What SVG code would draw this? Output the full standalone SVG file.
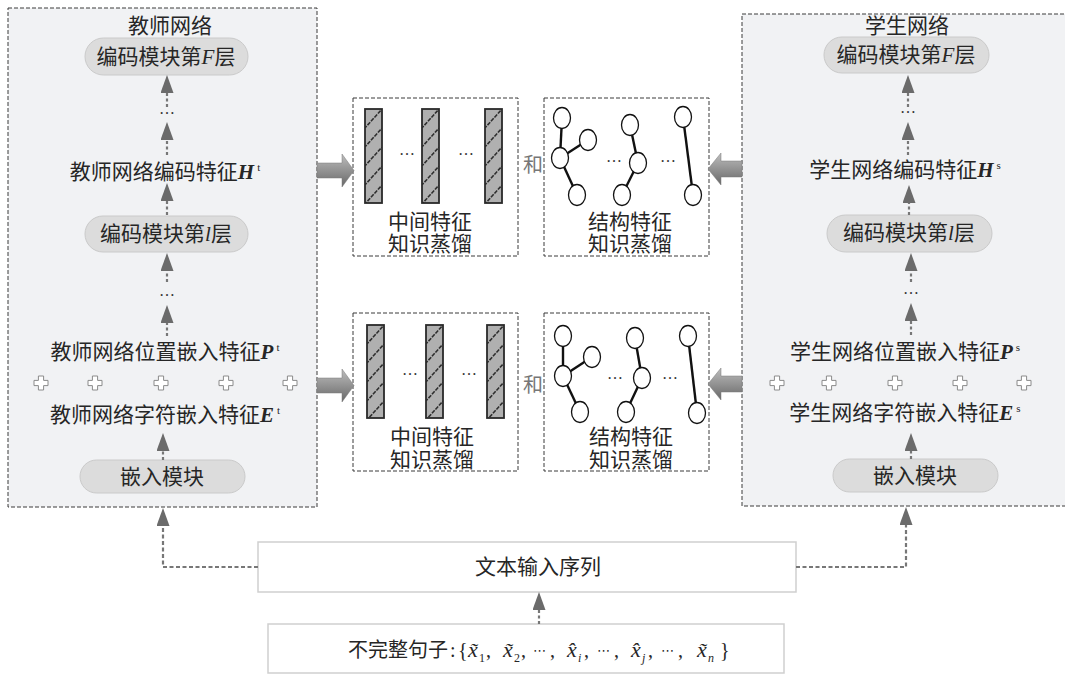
<svg xmlns="http://www.w3.org/2000/svg" width="1065" height="675" viewBox="0 0 1065 675">
<style>
.panel{fill:#f1f2f4;stroke:#3a3a3a;stroke-width:1;stroke-dasharray:4,2}
.mbox{fill:#fff;stroke:#3a3a3a;stroke-width:1;stroke-dasharray:4,2}
.pill{fill:#dcdcdc;stroke:#cacaca;stroke-width:1}
.ibox{fill:#fff;stroke:#cfcfcf;stroke-width:1.5}
.t{font-family:"Liberation Serif","Noto Sans CJK SC",serif;font-size:21px;fill:#262626;text-anchor:middle}
.tl{font-family:"Liberation Serif","Noto Sans CJK SC",serif;font-size:20px;fill:#262626}
.he{font-family:"Liberation Serif",serif;font-style:italic;font-weight:bold}
.it{font-family:"Liberation Serif",serif;font-style:italic}
.sup{font-family:"Liberation Serif",serif;font-size:11px}
.dots{font-family:"Liberation Serif",serif;font-size:16px;fill:#333;text-anchor:middle}
.cd{font-family:"DejaVu Sans",sans-serif;font-size:13px}
.and{font-family:"Noto Sans CJK SC",sans-serif;font-size:20px;fill:#777;text-anchor:middle}
.shaft{stroke:#777;stroke-width:2.2;stroke-dasharray:3,2.5;fill:none}
.conn{stroke:#777;stroke-width:2.2;stroke-dasharray:4,2.5;fill:none}
.plus{fill:#fff;stroke:#8a8a8a;stroke-width:1}
.bar{stroke:#2a2a2a;stroke-width:1.8}
.node{fill:#fff;stroke:#111;stroke-width:1.3}
.edge{stroke:#111;stroke-width:2.4}
.block{fill:url(#bg);stroke:#7a7a7a;stroke-width:0.5}
</style>
<defs>
<marker id="ah" viewBox="0 0 18 13" refX="0" refY="6.5" markerWidth="18" markerHeight="13" markerUnits="userSpaceOnUse" orient="auto">
<path d="M0,0 L18,6.5 L0,13 Z" fill="#6b6b6b"/>
</marker>
<pattern id="hatch" patternUnits="userSpaceOnUse" width="17" height="19">
<rect width="17" height="19" fill="#b0b0b0"/>
<line x1="-1" y1="20" x2="18" y2="-1" stroke="#2e2e2e" stroke-width="1.6" stroke-dasharray="4,1.2"/>
</pattern>
<linearGradient id="bg" x1="0" y1="0" x2="0" y2="1">
<stop offset="0" stop-color="#bdbdbd"/>
<stop offset="1" stop-color="#686868"/>
</linearGradient>
<path id="plusShape" d="M-2.6,-7 H2.6 V-2.6 H7 V2.6 H2.6 V7 H-2.6 V2.6 H-7 V-2.6 H-2.6 Z"/>
</defs>

<!-- Teacher panel -->
<g id="teacher">
<rect class="panel" x="8" y="8" width="309" height="499"/>
<text class="t" x="170" y="33">教师网络</text>
<g id="t-encF">
<rect class="pill" x="85" y="38" width="163" height="37" rx="18.5"/>
<text class="t" x="166" y="64">编码模块第<tspan class="it">F</tspan>层</text>
</g>
<text class="dots" x="167" y="114">…</text>
<g id="t-H">
<text class="t" x="165" y="179">教师网络编码特征<tspan class="he">H</tspan><tspan class="sup" dx="3" dy="-8">t</tspan></text>
</g>
<g id="t-encl">
<rect class="pill" x="85" y="216" width="163" height="36" rx="18"/>
<text class="t" x="166" y="241">编码模块第<tspan class="it">l</tspan>层</text>
</g>
<text class="dots" x="167" y="296">…</text>
<g id="t-P">
<text class="t" x="165" y="359">教师网络位置嵌入特征<tspan class="he">P</tspan><tspan class="sup" dx="3" dy="-8">t</tspan></text>
</g>
<g id="t-plus">
<use href="#plusShape" class="plus" x="41" y="383"/>
<use href="#plusShape" class="plus" x="95" y="383"/>
<use href="#plusShape" class="plus" x="161" y="383"/>
<use href="#plusShape" class="plus" x="226" y="383"/>
<use href="#plusShape" class="plus" x="290" y="383"/>
</g>
<g id="t-E">
<text class="t" x="165" y="422">教师网络字符嵌入特征<tspan class="he">E</tspan><tspan class="sup" dx="3" dy="-8">t</tspan></text>
</g>
<g id="t-emb">
<rect class="pill" x="80" y="460" width="165" height="33" rx="16.5"/>
<text class="t" x="162" y="484">嵌入模块</text>
</g>
</g>

<!-- Student panel -->
<g id="student">
<rect class="panel" x="742" y="14" width="330" height="492"/>
<text class="t" x="907" y="33">学生网络</text>
<g id="s-encF">
<rect class="pill" x="824" y="37" width="165" height="36" rx="18"/>
<text class="t" x="906" y="62">编码模块第<tspan class="it">F</tspan>层</text>
</g>
<text class="dots" x="908" y="113">…</text>
<g id="s-H">
<text class="t" x="905" y="177">学生网络编码特征<tspan class="he">H</tspan><tspan class="sup" dx="3" dy="-8">s</tspan></text>
</g>
<g id="s-encl">
<rect class="pill" x="827" y="215" width="165" height="37" rx="18.5"/>
<text class="t" x="909" y="240">编码模块第<tspan class="it">l</tspan>层</text>
</g>
<text class="dots" x="911" y="294">…</text>
<g id="s-P">
<text class="t" x="905" y="359">学生网络位置嵌入特征<tspan class="he">P</tspan><tspan class="sup" dx="3" dy="-8">s</tspan></text>
</g>
<g id="s-plus">
<use href="#plusShape" class="plus" x="777" y="383"/>
<use href="#plusShape" class="plus" x="829" y="383"/>
<use href="#plusShape" class="plus" x="895" y="383"/>
<use href="#plusShape" class="plus" x="960" y="383"/>
<use href="#plusShape" class="plus" x="1024" y="383"/>
</g>
<g id="s-E">
<text class="t" x="905" y="420">学生网络字符嵌入特征<tspan class="he">E</tspan><tspan class="sup" dx="3" dy="-8">s</tspan></text>
</g>
<g id="s-emb">
<rect class="pill" x="833" y="459" width="165" height="33" rx="16.5"/>
<text class="t" x="915" y="483">嵌入模块</text>
</g>
</g>

<!-- Intermediate feature distillation (top) -->
<g id="mid-top">
<rect class="mbox" x="353" y="98" width="165" height="158"/>
<g transform="translate(365,109)"><rect class="bar" width="17" height="94" fill="url(#hatch)"/></g>
<g transform="translate(422,109)"><rect class="bar" width="17" height="94" fill="url(#hatch)"/></g>
<g transform="translate(485,109)"><rect class="bar" width="17" height="94" fill="url(#hatch)"/></g>
<text class="dots" x="407" y="155">…</text>
<text class="dots" x="466" y="155">…</text>
<text class="t" x="430" y="229">中间特征</text>
<text class="t" x="430" y="251">知识蒸馏</text>
</g>
<text class="and" x="533" y="172">和</text>
<g id="struct-top">
<rect class="mbox" x="544" y="98" width="165" height="158"/>
<line class="edge" x1="562" y1="118" x2="560" y2="158"/>
<line class="edge" x1="560" y1="158" x2="588" y2="140"/>
<line class="edge" x1="560" y1="158" x2="577" y2="195"/>
<line class="edge" x1="630" y1="125" x2="638" y2="163"/>
<line class="edge" x1="638" y1="163" x2="622" y2="195"/>
<line class="edge" x1="683" y1="117" x2="693" y2="195"/>
<ellipse class="node" cx="562" cy="118" rx="8.5" ry="10.5"/>
<ellipse class="node" cx="588" cy="140" rx="8.5" ry="10.5"/>
<ellipse class="node" cx="560" cy="158" rx="8.5" ry="10.5"/>
<ellipse class="node" cx="577" cy="195" rx="8.5" ry="10.5"/>
<ellipse class="node" cx="630" cy="125" rx="8.5" ry="10.5"/>
<ellipse class="node" cx="638" cy="163" rx="8.5" ry="10.5"/>
<ellipse class="node" cx="622" cy="195" rx="8.5" ry="10.5"/>
<ellipse class="node" cx="683" cy="117" rx="8.5" ry="10.5"/>
<ellipse class="node" cx="693" cy="195" rx="8.5" ry="10.5"/>
<text class="dots" x="614" y="162">…</text>
<text class="dots" x="668" y="162">…</text>
<text class="t" x="630" y="229">结构特征</text>
<text class="t" x="630" y="251">知识蒸馏</text>
</g>

<!-- Bottom row -->
<g id="mid-bot">
<rect class="mbox" x="353" y="313" width="165" height="158"/>
<g transform="translate(367,325)"><rect class="bar" width="17" height="93" fill="url(#hatch)"/></g>
<g transform="translate(426,325)"><rect class="bar" width="17" height="93" fill="url(#hatch)"/></g>
<g transform="translate(487,325)"><rect class="bar" width="17" height="93" fill="url(#hatch)"/></g>
<text class="dots" x="410" y="375">…</text>
<text class="dots" x="469" y="375">…</text>
<text class="t" x="432" y="444">中间特征</text>
<text class="t" x="432" y="467">知识蒸馏</text>
</g>
<text class="and" x="533" y="392">和</text>
<g id="struct-bot">
<rect class="mbox" x="544" y="313" width="165" height="158"/>
<line class="edge" x1="563" y1="336" x2="563" y2="376"/>
<line class="edge" x1="563" y1="376" x2="592" y2="357"/>
<line class="edge" x1="563" y1="376" x2="580" y2="412"/>
<line class="edge" x1="635" y1="338" x2="642" y2="378"/>
<line class="edge" x1="642" y1="378" x2="626" y2="412"/>
<line class="edge" x1="688" y1="336" x2="697" y2="413"/>
<ellipse class="node" cx="563" cy="336" rx="8.5" ry="10.5"/>
<ellipse class="node" cx="592" cy="357" rx="8.5" ry="10.5"/>
<ellipse class="node" cx="563" cy="376" rx="8.5" ry="10.5"/>
<ellipse class="node" cx="580" cy="412" rx="8.5" ry="10.5"/>
<ellipse class="node" cx="635" cy="338" rx="8.5" ry="10.5"/>
<ellipse class="node" cx="642" cy="378" rx="8.5" ry="10.5"/>
<ellipse class="node" cx="626" cy="412" rx="8.5" ry="10.5"/>
<ellipse class="node" cx="688" cy="336" rx="8.5" ry="10.5"/>
<ellipse class="node" cx="697" cy="413" rx="8.5" ry="10.5"/>
<text class="dots" x="615" y="379">…</text>
<text class="dots" x="670" y="379">…</text>
<text class="t" x="631" y="444">结构特征</text>
<text class="t" x="631" y="467">知识蒸馏</text>
</g>

<!-- Input boxes -->
<g id="input-seq">
<rect class="ibox" x="258" y="542" width="538" height="50"/>
<text class="t" x="538" y="574">文本输入序列</text>
</g>
<g id="sentence">
<rect class="ibox" x="268" y="624" width="516" height="49"/>
<text class="tl" y="657"><tspan x="348">不完整句子</tspan><tspan x="450">:</tspan><tspan x="458">{</tspan><tspan class="it" x="468" font-size="22">x&#771;</tspan><tspan x="479" y="662" font-size="12">1</tspan><tspan x="486" y="657">,</tspan><tspan class="it" x="503" font-size="22">x&#771;</tspan><tspan x="514" y="662" font-size="12">2</tspan><tspan x="521" y="657">,</tspan><tspan class="cd" x="533" y="655">⋯</tspan><tspan x="550" y="657">,</tspan><tspan class="it" x="567" font-size="22">x&#770;</tspan><tspan class="it" x="578" y="662" font-size="12">i</tspan><tspan x="584" y="657">,</tspan><tspan class="cd" x="597" y="655">⋯</tspan><tspan x="614" y="657">,</tspan><tspan class="it" x="631" font-size="22">x&#770;</tspan><tspan class="it" x="642" y="662" font-size="12">j</tspan><tspan x="648" y="657">,</tspan><tspan class="cd" x="661" y="655">⋯</tspan><tspan x="678" y="657">,</tspan><tspan class="it" x="697" font-size="22">x&#771;</tspan><tspan class="it" x="708" y="662" font-size="12">n</tspan><tspan x="720" y="657">}</tspan></text>
</g>

<!-- Connectors -->
<g id="connectors">
<line class="shaft" x1="167" y1="107" x2="167" y2="93" marker-end="url(#ah)"/>
<line class="shaft" x1="167" y1="155" x2="167" y2="140" marker-end="url(#ah)"/>
<line class="shaft" x1="167" y1="215" x2="167" y2="201" marker-end="url(#ah)"/>
<line class="shaft" x1="167" y1="282" x2="167" y2="271" marker-end="url(#ah)"/>
<line class="shaft" x1="167" y1="336" x2="167" y2="323" marker-end="url(#ah)"/>
<line class="shaft" x1="163" y1="460" x2="163" y2="451" marker-end="url(#ah)"/>
<line class="shaft" x1="908" y1="107" x2="908" y2="93" marker-end="url(#ah)"/>
<line class="shaft" x1="908" y1="155" x2="908" y2="140" marker-end="url(#ah)"/>
<line class="shaft" x1="909" y1="215" x2="909" y2="203" marker-end="url(#ah)"/>
<line class="shaft" x1="911" y1="282" x2="911" y2="271" marker-end="url(#ah)"/>
<line class="shaft" x1="911" y1="335" x2="911" y2="321" marker-end="url(#ah)"/>
<line class="shaft" x1="911" y1="459" x2="911" y2="451" marker-end="url(#ah)"/>
<path class="conn" d="M258,567 H163 V526" marker-end="url(#ah)"/>
<path class="conn" d="M796,567 H906 V525" marker-end="url(#ah)"/>
<line class="shaft" x1="539" y1="624" x2="539" y2="610" marker-end="url(#ah)"/>
<path class="block" d="M317,163 H342 V154 L354,170.5 L342,187 V178 H317 Z"/>
<path class="block" d="M317,378 H342 V369 L354,385.5 L342,402 V393 H317 Z"/>
<path class="block" d="M742,161 H721 V153 L708,169 L721,185 V177 H742 Z"/>
<path class="block" d="M742,376 H721 V368 L708,384 L721,400 V392 H742 Z"/>
</g>
</svg>
